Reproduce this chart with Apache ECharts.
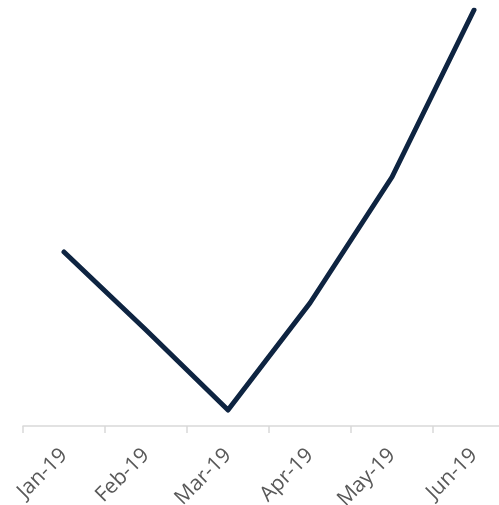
<!DOCTYPE html>
<html>
<head>
<meta charset="utf-8">
<script src="https://cdn.jsdelivr.net/npm/echarts@6/dist/echarts.min.js"></script>
<style>
  html, body { margin: 0; padding: 0; background: #ffffff; }
  #chart { width: 499px; height: 505px; }
</style>
</head>
<body>
<div id="chart"></div>
<script>
// Monthly values, Jan–Jun 2019
const months = ['Jan-19', 'Feb-19', 'Mar-19', 'Apr-19', 'May-19', 'Jun-19'];
const values = [174, 96, 16, 123, 249, 416];

const chart = echarts.init(document.getElementById('chart'));
chart.setOption({
  animation: false,
  // plot area runs slightly past the right edge of the canvas
  grid: { left: 23, width: 492, top: 10, bottom: 79, containLabel: false, outerBoundsMode: 'none' },
  xAxis: {
    type: 'category',
    data: months,
    boundaryGap: true,
    axisLine: { lineStyle: { color: '#d9d9d9', width: 1.5 } },
    axisTick: { show: true, length: 7, lineStyle: { color: '#d9d9d9', width: 1.5 } },
    axisLabel: {
      rotate: 45,
      color: '#595959',
      fontFamily: 'Open Sans',
      fontSize: 21,
      margin: 26
    }
  },
  yAxis: {
    type: 'value',
    min: 0,
    max: 416,
    show: false
  },
  series: [{
    type: 'line',
    data: values,
    symbol: 'none',
    lineStyle: { color: '#0e2441', width: 5, cap: 'round', join: 'round' }
  }]
});
</script>
</body>
</html>
